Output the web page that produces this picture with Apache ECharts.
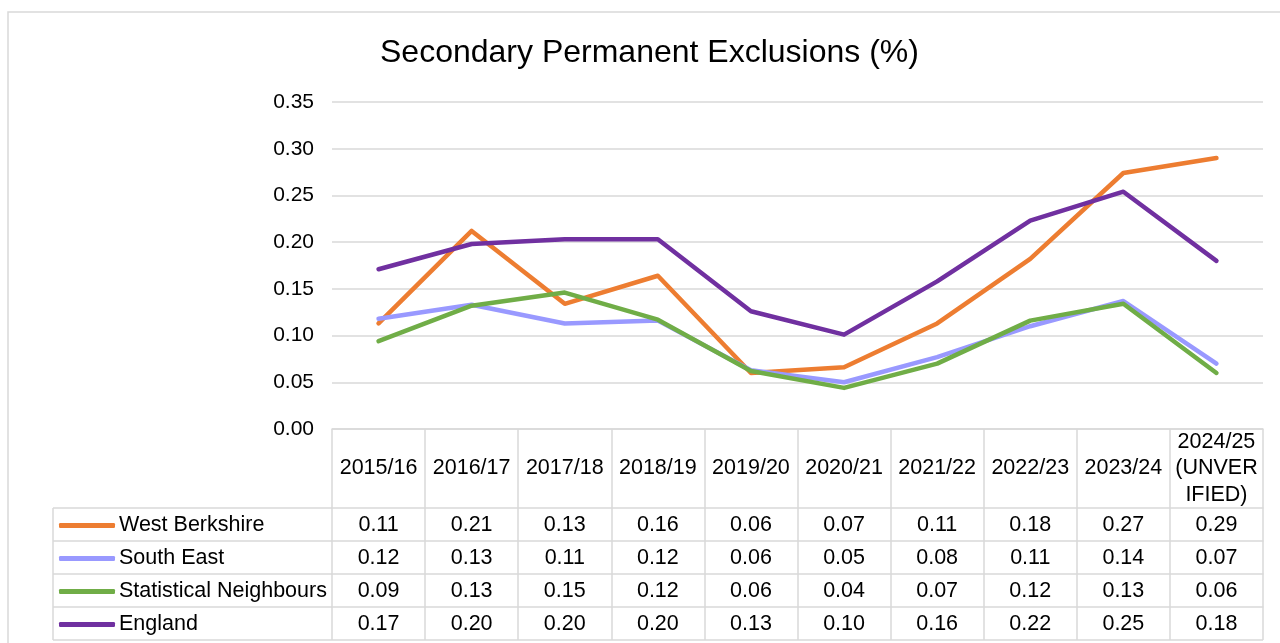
<!DOCTYPE html>
<html><head><meta charset="utf-8">
<script src="https://cdn.jsdelivr.net/npm/echarts@6/dist/echarts.min.js"></script>
<style>html,body{margin:0;padding:0;background:#fff}#c{width:1280px;height:643px}</style>
</head><body><div id="c"></div>
<script>
const categories = ['2015/16','2016/17','2017/18','2018/19','2019/20','2020/21','2021/22','2022/23','2023/24','2024/25 (UNVERIFIED)'];
const headerLabels = ['2015/16','2016/17','2017/18','2018/19','2019/20','2020/21','2021/22','2022/23','2023/24','2024/25\n(UNVER\nIFIED)'];
const seriesNames = ['West Berkshire','South East','Statistical Neighbours','England'];
const westBerkshire = [0.113,0.212,0.134,0.164,0.060,0.066,0.113,0.182,0.274,0.290];
const southEast = [0.118,0.133,0.113,0.116,0.063,0.050,0.077,0.110,0.137,0.070];
const statNeighbours = [0.094,0.132,0.146,0.117,0.062,0.044,0.070,0.116,0.134,0.060];
const england = [0.171,0.198,0.203,0.203,0.126,0.101,0.158,0.223,0.254,0.180];
const yTicks = {min:0, max:0.35, interval:0.05};
const colors = ['#ED7D31','#9999FF','#70AD47','#7030A0'];
const values = [westBerkshire, southEast, statNeighbours, england];

const FONT = "Arial, 'Liberation Sans', sans-serif";
const GRID = {left:332, right:17, top:102, bottom:214};
const HEADER_H = 79, ROW_H = 33;
const LINE_C = '#d9d9d9';
const tableLeft = 53;
const plotRight = 1280 - GRID.right;
const tableTop = 643 - GRID.bottom;
const TFS = 21.5;

const xAxes = [{
  type:'category', data:categories, position:'bottom', boundaryGap:true,
  axisLine:{show:true, lineStyle:{color:LINE_C, width:1.5}},
  axisTick:{show:true, length:HEADER_H, lineStyle:{color:LINE_C, width:1.5}},
  axisLabel:{show:true, interval:0, margin:HEADER_H/2, verticalAlign:'middle', align:'center',
    fontSize:TFS, lineHeight:26.5, color:'#000', fontFamily:FONT,
    formatter:(v, i) => headerLabels[i]},
  splitLine:{show:false}
}];
values.forEach((arr, r) => {
  xAxes.push({
    type:'category', data:categories, position:'bottom', offset:HEADER_H + ROW_H*r,
    axisLine:{show:true, lineStyle:{color:LINE_C, width:1.5}},
    axisTick:{show:true, length:ROW_H, lineStyle:{color:LINE_C, width:1.5}},
    axisLabel:{show:true, interval:0, margin:ROW_H/2 + 1, verticalAlign:'middle', align:'center',
      fontSize:TFS, color:'#000', fontFamily:FONT,
      formatter:(v, i) => arr[i].toFixed(2)},
    splitLine:{show:false}
  });
});

const graphics = [
  {type:'rect', shape:{x:8, y:12, width:1300, height:700}, style:{fill:'none', stroke:LINE_C, lineWidth:1.5}, silent:true},
  {type:'line', shape:{x1:tableLeft, y1:tableTop+HEADER_H, x2:tableLeft, y2:tableTop+HEADER_H+ROW_H*4}, style:{stroke:LINE_C, lineWidth:1.5}},
  {type:'line', shape:{x1:tableLeft, y1:tableTop+HEADER_H+ROW_H*4, x2:plotRight, y2:tableTop+HEADER_H+ROW_H*4}, style:{stroke:LINE_C, lineWidth:1.5}}
];
for (let r = 0; r < 4; r++) {
  graphics.push({type:'line', shape:{x1:tableLeft, y1:tableTop+HEADER_H+ROW_H*r, x2:GRID.left, y2:tableTop+HEADER_H+ROW_H*r}, style:{stroke:LINE_C, lineWidth:1.5}});
}

const chart = echarts.init(document.getElementById('c'), null, {renderer:'canvas'});
chart.setOption({
  animation:false,
  backgroundColor:'#fff',
  title:{text:'Secondary Permanent Exclusions (%)', left:380, top:37, padding:0,
    textStyle:{fontSize:32, fontWeight:'normal', color:'#000', fontFamily:FONT}},
  grid:GRID,
  legend:{orient:'vertical', left:59, top:tableTop+HEADER_H + 1, padding:0, height:ROW_H*4 + 4, itemGap:0, itemWidth:56, itemHeight:5,
    icon:'roundRect', data:seriesNames,
    textStyle:{fontSize:TFS, color:'#000', fontFamily:FONT, lineHeight:ROW_H, padding:[0,0,0,-1]}},
  xAxis:xAxes,
  yAxis:{type:'value', min:yTicks.min, max:yTicks.max, interval:yTicks.interval,
    axisLine:{show:false}, axisTick:{show:false},
    axisLabel:{fontSize:21, color:'#000', fontFamily:FONT, margin:18, formatter:v => v.toFixed(2)},
    splitLine:{lineStyle:{color:LINE_C, width:1.5}}},
  graphic:graphics,
  series:values.map((arr, i) => ({
    name:seriesNames[i], type:'line', data:arr, xAxisIndex:0, yAxisIndex:0,
    symbol:'none', color:colors[i],
    lineStyle:{width:4.5, color:colors[i], cap:'round', join:'round'}
  }))
});
</script></body></html>
